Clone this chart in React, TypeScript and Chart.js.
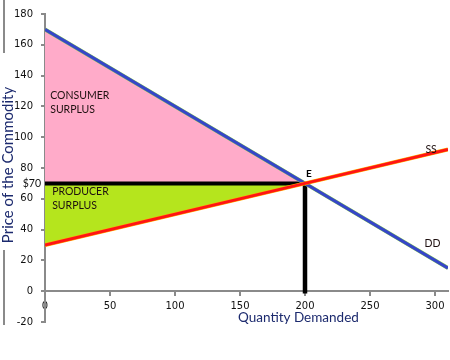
import React, { useEffect, useRef } from "react";
import { Chart, registerables } from "chart.js";

Chart.register(...registerables);

// ---- data ----
const quantities = [0, 200, 310];
const demandPrices = [170, 70, 15];
const supplyPrices = [30, 70, 92];
const equilibriumQuantity = 200;
const equilibriumPrice = 70;
const xTickValues = [0, 50, 100, 150, 200, 250, 300];
const yTickValues = [-20, 0, 20, 40, 60, 80, 100, 120, 140, 160, 180];
const priceTickLabel = "$70";
const xAxisTitle = "Quantity Demanded";
const yAxisTitle = "Price of the Commodity";

// annotation texts anchored at data coordinates
const annotations = [
  { text: "CONSUMER", x: 4, y: 127, align: "left" },
  { text: "SURPLUS", x: 4, y: 118, align: "left" },
  { text: "PRODUCER", x: 5.5, y: 64.5, align: "left" },
  { text: "SURPLUS", x: 5.5, y: 55.5, align: "left" },
  { text: "SS", x: 297, y: 92, align: "center" },
  { text: "DD", x: 298, y: 31, align: "center" },
];

const toPoints = (xs: number[], ys: number[]) => xs.map((x, i) => ({ x, y: ys[i] }));

const labelPlugin = {
  id: "labels",
  afterDraw(chart: any) {
    const { ctx, scales, chartArea } = chart;
    const xs = scales.x;
    const ys = scales.y;
    ctx.save();
    ctx.textBaseline = "middle";
    // surplus and curve labels
    ctx.font = "10.5px Lato";
    ctx.fillStyle = "#1e1010";
    annotations.forEach((a) => {
      ctx.textAlign = a.align as CanvasTextAlign;
      ctx.fillText(a.text, xs.getPixelForValue(a.x), ys.getPixelForValue(a.y));
    });
    // E label
    ctx.font = "bold 10px Lato";
    ctx.fillStyle = "#000";
    ctx.textAlign = "left";
    ctx.fillText(
      "E",
      xs.getPixelForValue(equilibriumQuantity) + 1,
      ys.getPixelForValue(equilibriumPrice) - 10
    );
    // $70 label on the y axis
    ctx.font = "10.5px Lato";
    ctx.textAlign = "right";
    ctx.fillStyle = "#111";
    ctx.fillText(priceTickLabel, chartArea.left - 4, ys.getPixelForValue(equilibriumPrice));
    // axis titles
    ctx.font = "13.5px Lato";
    ctx.fillStyle = "#1c2a6e";
    ctx.textAlign = "left";
    ctx.fillText(xAxisTitle, 238, 318);
    ctx.save();
    ctx.translate(8, 165);
    ctx.rotate(-Math.PI / 2);
    ctx.textAlign = "center";
    ctx.font = "15px Lato";
    ctx.fillText(yAxisTitle, 0, 0);
    ctx.restore();
    // left decorative border segments
    ctx.strokeStyle = "#8a8a8a";
    ctx.lineWidth = 2;
    ctx.beginPath();
    ctx.moveTo(4, 0);
    ctx.lineTo(4, 53);
    ctx.moveTo(4, 250);
    ctx.lineTo(4, 325);
    ctx.stroke();
    ctx.restore();
  },
};

export default function App() {
  const ref = useRef<HTMLCanvasElement>(null);
  useEffect(() => {
    if (!ref.current) return;
    const eqPoint = { x: equilibriumQuantity, y: equilibriumPrice };
    const chart = new Chart(ref.current, {
      type: "scatter",
      data: {
        datasets: [
          {
            data: toPoints(quantities, supplyPrices),
            showLine: true,
            borderColor: "#ff1414",
            borderWidth: 3,
            pointRadius: 0,
          },
          {
            data: toPoints(quantities, supplyPrices),
            showLine: true,
            borderColor: "#ffb000",
            borderWidth: 4,
            pointRadius: 0,
          },
          {
            data: toPoints(quantities, demandPrices),
            showLine: true,
            borderColor: "#3646c8",
            borderWidth: 3,
            pointRadius: 0,
          },
          {
            data: toPoints(quantities, demandPrices),
            showLine: true,
            borderColor: "#8fd14f",
            borderWidth: 4,
            pointRadius: 0,
          },
          {
            data: [{ x: 0, y: equilibriumPrice }, eqPoint],
            showLine: true,
            borderColor: "#000",
            borderWidth: 4,
            pointRadius: 0,
          },
          {
            data: [eqPoint, { x: equilibriumQuantity, y: -1.5 }],
            showLine: true,
            borderColor: "#000",
            borderWidth: 4.5,
            pointRadius: 0,
          },
          {
            data: [
              { x: quantities[0], y: demandPrices[0] },
              eqPoint,
            ],
            showLine: true,
            borderColor: "rgba(0,0,0,0)",
            borderWidth: 0,
            pointRadius: 0,
            backgroundColor: "#ffabc9",
            fill: { value: equilibriumPrice },
          },
          {
            data: [
              { x: quantities[0], y: supplyPrices[0] },
              eqPoint,
            ],
            showLine: true,
            borderColor: "rgba(0,0,0,0)",
            borderWidth: 0,
            pointRadius: 0,
            backgroundColor: "#b5e51d",
            fill: { value: equilibriumPrice },
          },
        ],
      },
      options: {
        animation: false,
        responsive: false,
        events: [],
        layout: { padding: { top: 10, right: 2, bottom: 38, left: 0 } },
        plugins: {
          legend: { display: false },
          tooltip: { enabled: false },
        },
        scales: {
          x: {
            type: "linear",
            position: { y: 0 } as any,
            min: 0,
            max: 310,
            afterBuildTicks: (scale: any) => {
              scale.ticks = xTickValues.map((v) => ({ value: v }));
            },
            ticks: {
              color: "#111",
              font: { family: "DejaVu Sans", size: 10 },
              padding: 5,
              maxRotation: 0,
            },
            grid: {
              display: true,
              drawOnChartArea: false,
              drawTicks: true,
              tickLength: 4,
              color: "#8a8a8a",
              lineWidth: 2,
            },
            border: { display: true, color: "#8a8a8a", width: 2 },
          },
          y: {
            type: "linear",
            position: "left",
            min: -20,
            max: 180,
            afterBuildTicks: (scale: any) => {
              scale.ticks = yTickValues.map((v) => ({ value: v }));
            },
            afterFit: (scale: any) => {
              scale.width = 45;
            },
            ticks: {
              color: "#111",
              font: { family: "DejaVu Sans", size: 10 },
              padding: 8,
            },
            grid: {
              display: true,
              drawOnChartArea: false,
              drawTicks: true,
              tickLength: 4,
              color: "#8a8a8a",
              lineWidth: 2,
            },
            border: { display: true, color: "#8a8a8a", width: 2 },
          },
        },
      },
      plugins: [labelPlugin],
    });
    return () => chart.destroy();
  }, []);
  return (
    <div style={{ position: "absolute", left: 0, top: 0, width: 450, height: 360, background: "#fff" }}>
      <canvas ref={ref} width={450} height={360} />
    </div>
  );
}
